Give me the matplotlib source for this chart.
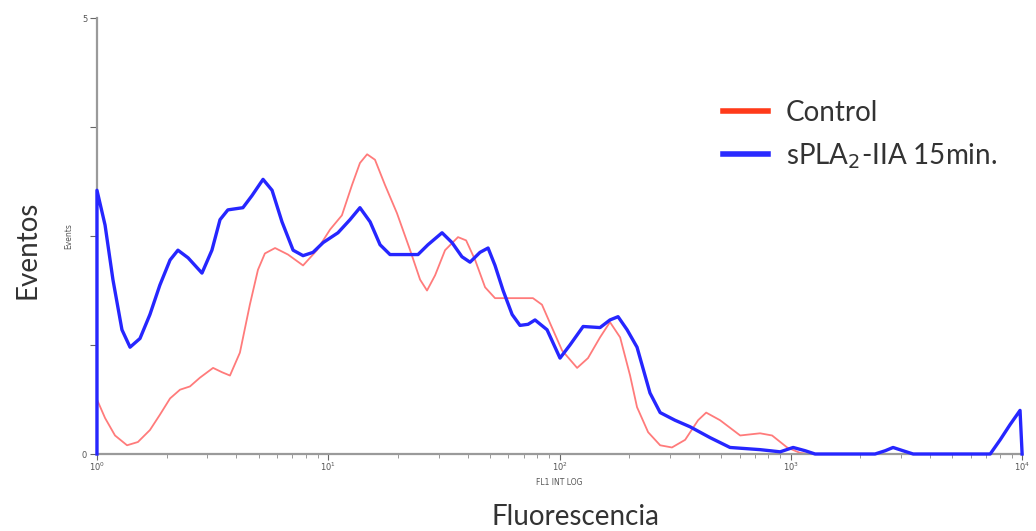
import numpy as np
import matplotlib
matplotlib.use("Agg")
import matplotlib.pyplot as plt
from matplotlib.lines import Line2D
from matplotlib.ticker import LogLocator, NullFormatter

# curves: x as log10 of fluorescence, y in events
blue_logx = [0, 0, 0.035, 0.069, 0.108, 0.143, 0.186, 0.229, 0.272, 0.316, 0.350,
             0.394, 0.454, 0.497, 0.532, 0.566, 0.631, 0.670, 0.718, 0.757, 0.800,
             0.848, 0.891, 0.934, 0.978, 1.042, 1.094, 1.137, 1.181, 1.224, 1.267,
             1.354, 1.388, 1.431, 1.492, 1.535, 1.578, 1.613, 1.656, 1.691, 1.721,
             1.756, 1.795, 1.829, 1.864, 1.894, 1.946, 2.002, 2.045, 2.102, 2.175,
             2.218, 2.253, 2.292, 2.335, 2.391, 2.435, 2.499, 2.564, 2.651, 2.737,
             2.867, 2.954, 3.010, 3.062, 3.105, 3.364, 3.408, 3.442, 3.485, 3.529,
             3.862, 3.905, 3.948, 3.991, 4.0]
blue_y = [0, 2.42, 2.10, 1.60, 1.14, 0.98, 1.06, 1.28, 1.55, 1.78, 1.87,
          1.80, 1.66, 1.87, 2.15, 2.24, 2.26, 2.37, 2.52, 2.42, 2.13,
          1.87, 1.82, 1.85, 1.94, 2.03, 2.15, 2.26, 2.13, 1.92, 1.83,
          1.83, 1.83, 1.92, 2.03, 1.94, 1.81, 1.76, 1.85, 1.89, 1.73,
          1.50, 1.28, 1.18, 1.19, 1.23, 1.14, 0.88, 1.00, 1.17, 1.16,
          1.23, 1.26, 1.14, 0.98, 0.56, 0.38, 0.31, 0.25, 0.15, 0.06,
          0.04, 0.02, 0.06, 0.03, 0, 0, 0.03, 0.06, 0.03, 0,
          0, 0.13, 0.27, 0.40, 0]

red_logx = [0, 0.035, 0.078, 0.130, 0.177, 0.229, 0.272, 0.316, 0.359, 0.402,
            0.445, 0.502, 0.541, 0.575, 0.618, 0.661, 0.696, 0.726, 0.770, 0.826,
            0.891, 0.951, 1.008, 1.059, 1.103, 1.137, 1.168, 1.202, 1.245, 1.297,
            1.354, 1.397, 1.427, 1.462, 1.505, 1.561, 1.596, 1.635, 1.678, 1.721,
            1.786, 1.885, 1.924, 1.959, 2.011, 2.076, 2.123, 2.175, 2.218, 2.262,
            2.305, 2.335, 2.383, 2.435, 2.486, 2.543, 2.599, 2.634, 2.694, 2.781,
            2.867, 2.919, 2.984, 3.040, 3.083, 4.0]
red_y = [0.50, 0.33, 0.17, 0.08, 0.11, 0.22, 0.36, 0.51, 0.59, 0.62,
         0.70, 0.79, 0.75, 0.72, 0.93, 1.37, 1.69, 1.84, 1.89, 1.83,
         1.73, 1.87, 2.06, 2.19, 2.47, 2.67, 2.75, 2.70, 2.47, 2.21,
         1.87, 1.60, 1.50, 1.64, 1.87, 1.99, 1.96, 1.78, 1.53, 1.43,
         1.43, 1.43, 1.37, 1.20, 0.95, 0.79, 0.88, 1.07, 1.21, 1.07,
         0.72, 0.43, 0.20, 0.08, 0.06, 0.13, 0.31, 0.38, 0.31, 0.17,
         0.19, 0.17, 0.06, 0.01, 0, 0]

labels = ["Control", "sPLA$_2$-IIA 15min."]

fig = plt.figure(figsize=(10.36, 5.31), dpi=100)
ax = fig.add_axes([0.0936, 0.145, 0.893, 0.821])

ax.plot(10 ** np.array(red_logx), red_y, color="#ff7b7b", lw=1.3,
        solid_joinstyle="round")
ax.plot(10 ** np.array(blue_logx), blue_y, color="#2626ff", lw=2.4,
        solid_joinstyle="round", clip_on=False, zorder=5)

ax.set_xscale("log")
ax.set_xlim(1, 1e4)
ax.set_ylim(0, 4)

gray = "#9a9a9a"
for s in ["top", "right"]:
    ax.spines[s].set_visible(False)
for s in ["left", "bottom"]:
    ax.spines[s].set_color(gray)
    ax.spines[s].set_linewidth(1.6)

ax.xaxis.set_major_locator(LogLocator(base=10, numticks=10))
ax.xaxis.set_minor_locator(LogLocator(base=10, subs=np.arange(2, 10), numticks=50))
ax.xaxis.set_minor_formatter(NullFormatter())
ax.tick_params(axis="x", which="major", length=4, color="#666666", labelsize=6,
               labelcolor="#555555", pad=1)
ax.tick_params(axis="x", which="minor", length=3, color="#888888")
ax.set_yticks([0, 1, 2, 3, 4])
ax.set_yticklabels(["0", "", "", "", "5"])
ax.tick_params(axis="y", length=5, color="#666666", labelsize=6,
               labelcolor="#555555", pad=2)

ax.set_xlabel("FL1 INT LOG", fontsize=5.5, color="#555555", labelpad=3)
ax.set_ylabel("Events", fontsize=5.5, color="#555555", labelpad=6)

fig.text(0.555, 0.026, "Fluorescencia", fontsize=20, family="Lato",
         color="#333333", ha="center", va="center")
fig.text(0.027, 0.53, "Eventos", fontsize=20, family="Lato", rotation=90,
         color="#333333", ha="center", va="center")

handles = [Line2D([], [], color="#ff3a1a", lw=4),
           Line2D([], [], color="#2a2aff", lw=4)]
leg = ax.legend(handles, labels, loc="upper left", bbox_to_anchor=(0.65, 0.87),
                frameon=False, handlelength=1.6, handletextpad=0.65,
                labelspacing=0.55, prop={"family": "Lato", "size": 20})
for t in leg.get_texts():
    t.set_color("#333333")

fig.savefig("out.png", dpi=100)
